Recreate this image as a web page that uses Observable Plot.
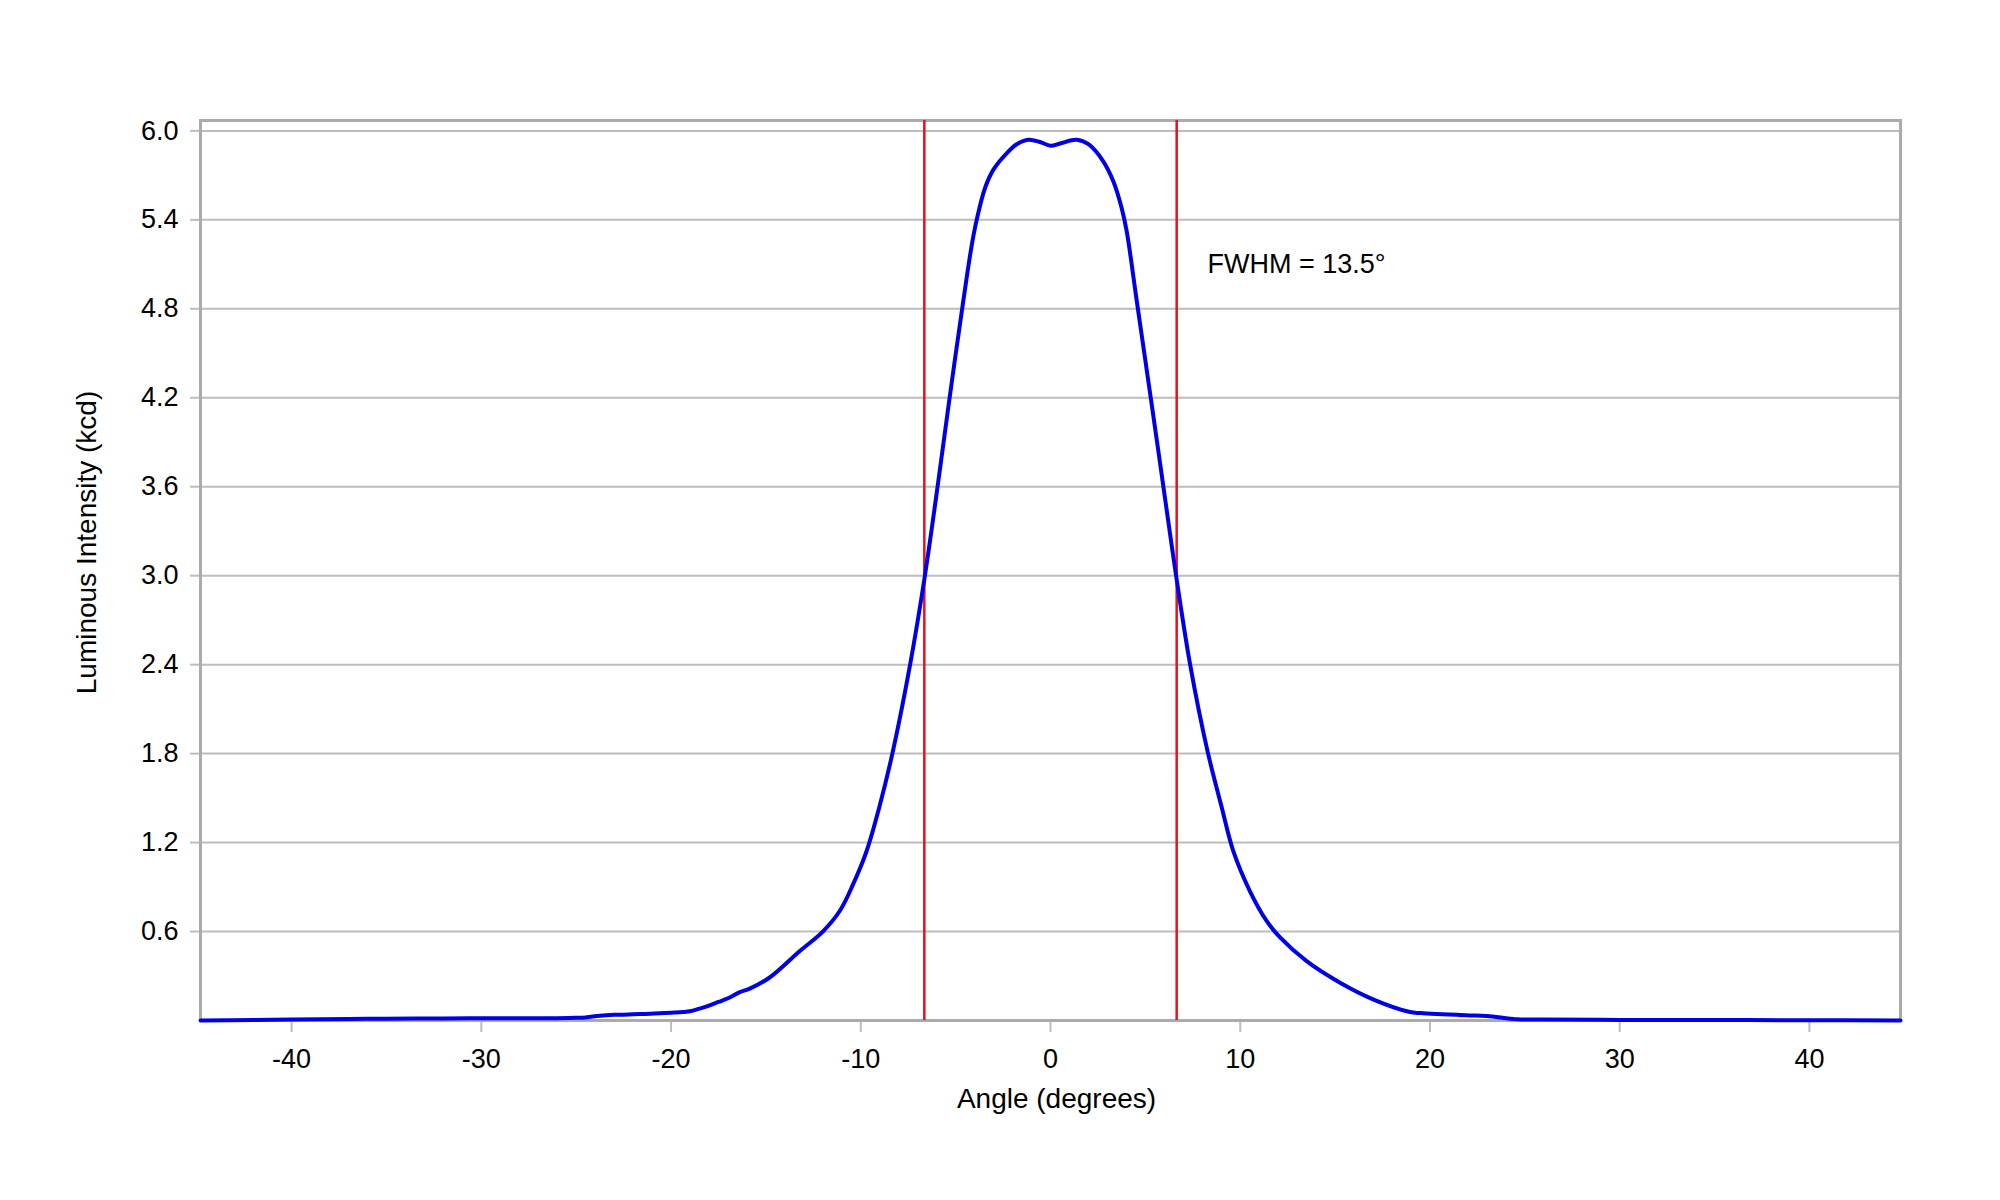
<!DOCTYPE html>
<html>
<head>
<meta charset="utf-8">
<script src="https://cdn.jsdelivr.net/npm/d3@7"></script>
<script src="https://cdn.jsdelivr.net/npm/@observablehq/plot@0.6"></script>
<style>
  html, body { margin: 0; padding: 0; background: #ffffff; }
  #chart svg { display: block; font-family: "Liberation Sans", Arial, sans-serif; }
</style>
</head>
<body>
<div id="chart"></div>
<script>
// Angle (degrees)
const angles = [
  -44.8, -42, -40, -37, -35, -32, -30, -28, -26, -25, -24.5, -23.75, -23, -22, -21.1, -20, -19.4, -19,
  -18.5, -18, -17.5, -17, -16.4, -15.85, -14.8, -13.2, -12, -11.1, -10.4, -9.7, -9.0, -8.3, -7.4,
  -6.62, -5.92, -5.35, -4.6, -4.15, -3.89, -3.45, -3.0, -2.3, -1.78, -1.17, -0.55, 0, 0.5, 1.38,
  2.0, 2.78, 3.31, 3.75, 4.02, 4.55, 5.34, 5.95, 6.62, 7.36, 8.27, 9.0, 9.64, 10.52, 11.4, 12.1,
  13.5, 15.26, 17.0, 18.95, 19.5, 21.9, 23, 24.6, 26, 30, 35, 40, 44.8
];
// Luminous intensity (kcd)
const intensity = [
  0.0, 0.003, 0.006, 0.01, 0.012, 0.014, 0.015, 0.016, 0.016, 0.018, 0.021, 0.032, 0.038, 0.042, 0.045, 0.052, 0.057, 0.062,
  0.08, 0.1, 0.125, 0.15, 0.19, 0.215, 0.29, 0.47, 0.6, 0.74, 0.92, 1.14, 1.45, 1.82, 2.4,
  3.0, 3.63, 4.17, 4.85, 5.23, 5.40, 5.615, 5.74, 5.85, 5.91, 5.94, 5.925, 5.90, 5.915, 5.94,
  5.91, 5.795, 5.66, 5.48, 5.32, 4.85, 4.15, 3.6, 3.0, 2.4, 1.82, 1.45, 1.14, 0.87, 0.67, 0.56,
  0.40, 0.255, 0.143, 0.057, 0.05, 0.035, 0.03, 0.008, 0.006, 0.004, 0.003, 0.002, 0.0
];
// Half-maximum crossing angles (FWHM = 13.5°)
const fwhmEdges = [-6.65, 6.65];
const annotations = [{x: 8.27, y: 5.04, text: "FWHM = 13.5°"}];

const xTicks = [-40, -30, -20, -10, 0, 10, 20, 30, 40];
const yTicks = [0.6, 1.2, 1.8, 2.4, 3.0, 3.6, 4.2, 4.8, 5.4, 6.0];
const xTitle = "Angle (degrees)";
const yTitle = "Luminous Intensity (kcd)";

const profile = angles.map((a, i) => ({angle: a, value: intensity[i]}));

const gridColor = "#bdbdbd";
const frameColor = "#ababab";

const chart = Plot.plot({
  width: 2000,
  height: 1200,
  marginLeft: 200,
  marginRight: 100,
  marginTop: 120,
  marginBottom: 180,
  x: {domain: [-44.8, 44.8]},
  y: {domain: [0, 6.07]},
  marks: [
    Plot.ruleY(yTicks, {stroke: gridColor, strokeWidth: 2}),
    Plot.axisY({
      ticks: yTicks, tickSize: 10, tickPadding: 12, stroke: gridColor, strokeWidth: 2,
      fontSize: 27, fill: "#000", label: null, tickFormat: d3.format(".1f")
    }),
    Plot.axisX({
      ticks: xTicks, tickSize: 12, tickPadding: 16, stroke: gridColor, strokeWidth: 2,
      fontSize: 27, fill: "#000", label: null, tickFormat: d => String(d)
    }),
    Plot.frame({stroke: frameColor, strokeWidth: 3}),
    Plot.ruleX(fwhmEdges, {stroke: "#e8101a", strokeWidth: 2.5}),
    Plot.line(profile, {x: "angle", y: "value", stroke: "#0000e6", strokeWidth: 4, curve: "catmull-rom"}),
    Plot.text(annotations, {x: "x", y: "y", text: "text", textAnchor: "start", lineAnchor: "bottom", fontSize: 27, fill: "#000"}),
    Plot.text([xTitle], {frameAnchor: "bottom", dx: 6, dy: 87, fontSize: 28, fill: "#000"}),
    Plot.text([yTitle], {frameAnchor: "left", textAnchor: "middle", rotate: -90, dx: -113, dy: -28, fontSize: 28, fill: "#000"})
  ]
});
document.getElementById("chart").appendChild(chart);
</script>
</body>
</html>
